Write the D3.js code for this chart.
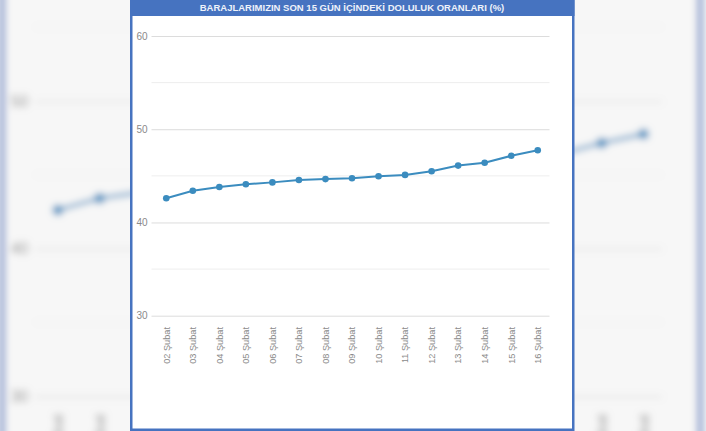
<!DOCTYPE html>
<html>
<head>
<meta charset="utf-8">
<script src="https://cdn.jsdelivr.net/npm/d3@7"></script>
<style>
  html, body { margin: 0; padding: 0; background: #f3f3f3; }
  svg { display: block; }
</style>
</head>
<body>
<div id="chart"></div>
<script>
'use strict'

// chart data
const title = 'BARAJLARIMIZIN SON 15 GÜN İÇİNDEKİ DOLULUK ORANLARI (%)'
const dates = ['02 Şubat', '03 Şubat', '04 Şubat', '05 Şubat', '06 Şubat', '07 Şubat', '08 Şubat',
    '09 Şubat', '10 Şubat', '11 Şubat', '12 Şubat', '13 Şubat', '14 Şubat', '15 Şubat', '16 Şubat']
const values = [42.6, 43.4, 43.8, 44.1, 44.3, 44.55, 44.65, 44.75, 44.95, 45.1, 45.5, 46.1, 46.4, 47.15, 47.75]
const majorTicks = [30, 40, 50, 60]
const minorTicks = [35, 45, 55]

////////////////////////////////////
//////////// svg setup /////////////
////////////////////////////////////

const svgWidth = 706
const svgHeight = 431

const blue = '#4673c0'
const lineColor = '#3b8cbf'

// enlarged backdrop copy: screen = offset + scale * card
const bgScale = [1.577, 1.583]
const bgOffset = [-204.4, -103.7]

const svg = d3.select('#chart').append('svg')
    .attr('width', svgWidth)
    .attr('height', svgHeight)

svg.append('defs').append('filter')
    .attr('id', 'blur')
    .attr('x', '-10%').attr('y', '-10%')
    .attr('width', '120%').attr('height', '120%')
    .append('feGaussianBlur')
    .attr('stdDeviation', 2.2)

////////////////////////////////////
//////////////scales////////////////
////////////////////////////////////

const xScale = d3.scalePoint()
    .domain(dates)
    .range([153, 551])
    .padding(0.5)

const yScale = d3.scaleLinear()
    .domain([30, 60])
    .range([315.7, 36])

const line = d3.line()
    .x((d, i) => xScale(dates[i]))
    .y(d => yScale(d))

// is a card position visible on screen in the backdrop (outside the front card)?
const bgVisibleX = x => {
    const sx = bgOffset[0] + bgScale[0] * x
    return sx > -10 && (sx < 128 || sx > 576) && sx < svgWidth + 10
}
const bgVisibleY = y => bgOffset[1] + bgScale[1] * y > -5

// draws the whole card (frame, title, grid, axis labels, line)
function drawCard(g, bg) {

    g.append('rect')
        .attr('x', 131.25).attr('y', -2)
        .attr('width', 442).attr('height', 431.75)
        .attr('fill', bg ? '#f7f7f7' : '#fff')
        .attr('stroke', blue)
        .attr('stroke-width', 2.5)

    g.append('rect')
        .attr('x', 130).attr('y', 0)
        .attr('width', 444.5).attr('height', 16)
        .attr('fill', blue)

    if (!bg) {
        g.append('text')
            .attr('x', 352).attr('y', 11.4)
            .attr('text-anchor', 'middle')
            .attr('font-family', 'Liberation Sans, Arial, sans-serif')
            .attr('font-size', 9.5)
            .attr('font-weight', 'bold')
            .attr('fill', '#eef2fa')
            .text(title)
    }

    // grid
    const yAxis = d3.axisLeft(yScale)
        .tickValues(majorTicks)
        .tickSize(-398)
        .tickPadding(4)
        .tickFormat(d3.format('d'))

    const ya = g.append('g')
        .attr('transform', 'translate(151.5,0)')
        .call(yAxis)
    ya.select('.domain').remove()
    ya.selectAll('line').attr('stroke', '#dcdcdc')
    ya.selectAll('text')
        .attr('font-family', 'Liberation Sans, Arial, sans-serif')
        .attr('font-size', 10)
        .attr('fill', '#8a8a8a')
    if (bg) ya.selectAll('text').filter(d => !bgVisibleY(yScale(d))).remove()

    g.append('g')
        .selectAll('line')
        .data(minorTicks)
        .join('line')
        .attr('x1', 151.5).attr('x2', 549.5)
        .attr('y1', d => yScale(d)).attr('y2', d => yScale(d))
        .attr('stroke', '#eeeeee')

    // x labels
    g.append('g')
        .selectAll('text')
        .data(bg ? dates.filter(d => bgVisibleX(xScale(d))) : dates)
        .join('text')
        .attr('transform', d => `translate(${xScale(d) + 3.3},327) rotate(-90)`)
        .attr('text-anchor', 'end')
        .attr('font-family', 'Liberation Sans, Arial, sans-serif')
        .attr('font-size', 9.2)
        .attr('fill', '#8a8a8a')
        .text(d => d)

    // series
    g.append('path')
        .attr('d', line(values))
        .attr('fill', 'none')
        .attr('stroke', lineColor)
        .attr('stroke-width', 2)

    g.append('g')
        .selectAll('circle')
        .data(values)
        .join('circle')
        .attr('cx', (d, i) => xScale(dates[i]))
        .attr('cy', d => yScale(d))
        .attr('r', 3.3)
        .attr('fill', lineColor)
}

// blurred, enlarged copy behind
const back = svg.append('g')
    .attr('transform', `translate(${bgOffset}) scale(${bgScale})`)
    .attr('filter', 'url(#blur)')
drawCard(back, true)

// the chart itself
drawCard(svg.append('g'), false)

</script>
</body>
</html>
